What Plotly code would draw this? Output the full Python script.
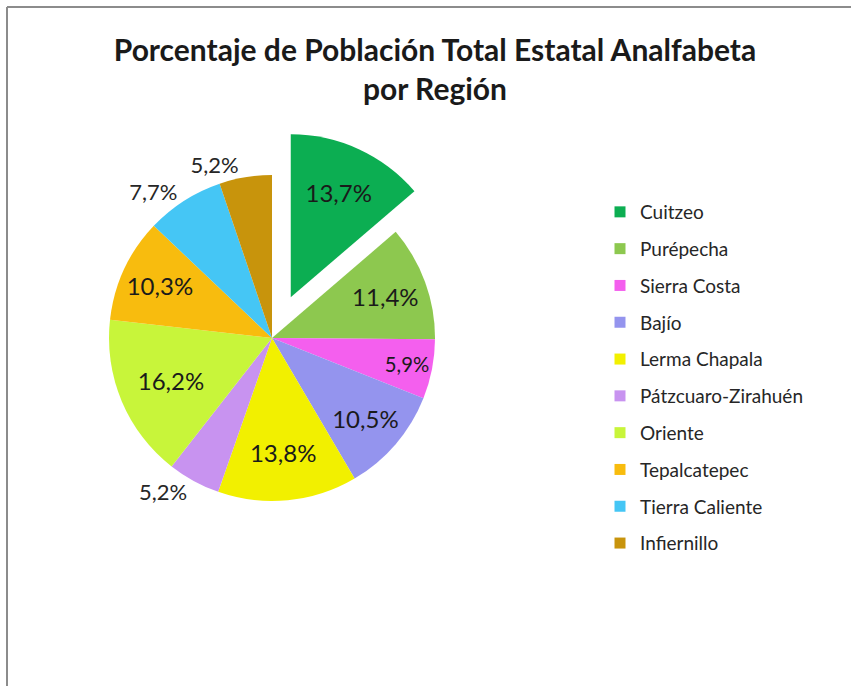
import plotly.graph_objects as go

# ---- data ----
regions = ["Cuitzeo", "Purépecha", "Sierra Costa", "Bajío", "Lerma Chapala",
           "Pátzcuaro-Zirahuén", "Oriente", "Tepalcatepec", "Tierra Caliente", "Infiernillo"]
percentages = [13.7, 11.4, 5.9, 10.5, 13.8, 5.2, 16.2, 10.3, 7.7, 5.2]

# ---- styling ----
colors = ["#0CAE52", "#8DC84F", "#F45FEE", "#9494EE", "#F2F000",
          "#C893F0", "#C8F53A", "#F8BC0E", "#45C6F5", "#C8940C"]
label_positions = ["inside", "inside", "inside", "inside", "inside",
                   "outside", "inside", "inside", "outside", "outside"]
pulls = [0.275, 0, 0, 0, 0, 0, 0, 0, 0, 0]

W, H = 851, 686
cx, cy, r = 272, 338, 163
half = r * (1 + max(pulls))

text = [f"{v:.1f}".replace(".", ",") + "%" for v in percentages]

fig = go.Figure()
fig.add_trace(go.Pie(
    labels=regions, values=percentages, text=text, textinfo="text",
    textposition=label_positions, insidetextorientation="horizontal",
    sort=False, direction="clockwise", rotation=0, pull=pulls,
    marker=dict(colors=colors, line=dict(width=0)),
    domain=dict(x=[(cx - half) / W, (cx + half) / W],
                y=[(H - cy - half) / H, (H - cy + half) / H]),
    showlegend=False,
    insidetextfont=dict(size=24, color="#1a1a1a", family="Lato"),
    outsidetextfont=dict(size=22, color="#262626", family="Lato"),
    hoverinfo="label+text",
))

for name, c in zip(regions, colors):
    fig.add_trace(go.Scatter(
        x=[None], y=[None], mode="markers", name=name, legendgroup=name,
        marker=dict(symbol="square", size=11, color=c), hoverinfo="skip",
    ))

fig.update_xaxes(visible=False)
fig.update_yaxes(visible=False)

fig.update_layout(
    width=W, height=H,
    margin=dict(l=0, r=0, t=0, b=0, autoexpand=False),
    paper_bgcolor="white", plot_bgcolor="white",
    title=dict(
        text="Porcentaje de Población Total Estatal Analfabeta<br>por Región",
        x=435 / W, xanchor="center", yref="container", y=1 - 61 / H, yanchor="top",
        font=dict(family="Lato", size=30, color="#1a1a1a", weight="bold"),
    ),
    legend=dict(
        x=600 / W, xanchor="left", y=1 - 193 / H, yanchor="top",
        font=dict(family="Lato", size=19, color="#262626"),
        tracegroupgap=9.1, itemsizing="trace", bgcolor="rgba(0,0,0,0)",
    ),
    shapes=[
        dict(type="line", xref="paper", yref="paper", x0=7 / W, x1=1, y0=1 - 7 / H, y1=1 - 7 / H,
             line=dict(color="#8c8c8c", width=2)),
        dict(type="line", xref="paper", yref="paper", x0=7 / W, x1=7 / W, y0=0, y1=1 - 7 / H,
             line=dict(color="#8c8c8c", width=2)),
    ],
)

fig.write_html("out.html", config={"displayModeBar": False},
               post_script="document.body.style.margin='0';")
